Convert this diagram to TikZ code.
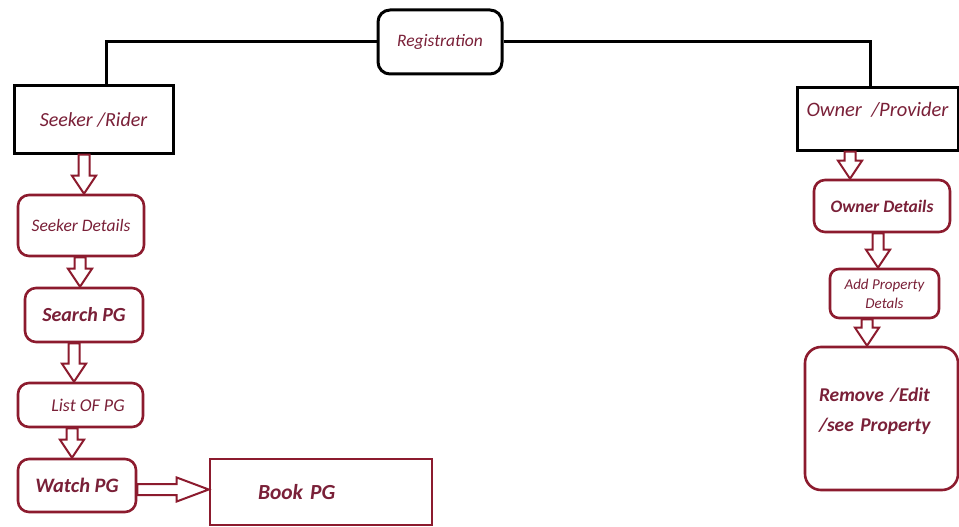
\documentclass[tikz,border=0pt]{standalone}
\usepackage{fontspec}
\setmainfont{Carlito}
\usetikzlibrary{calc}
\definecolor{dred}{HTML}{8C1B2E}
\definecolor{tred}{HTML}{7A2038}
\tikzset{
  blackbox/.style={draw=black,line width=3pt,text=tred,font=\itshape,inner sep=0pt},
  redbox/.style={draw=dred,line width=2.6pt,rounded corners=11pt,text=tred,font=\itshape,inner sep=0pt,fill=white},
  arrowline/.style={draw=dred,line width=2pt,fill=white,line join=miter},
  conn/.style={draw=black,line width=3pt}
}
\newcommand\blockarr[3][18pt]{%
  \path #2 coordinate (bas);
  \path #3 coordinate (bat);
  \path ($(bat)!#1!(bas)$) coordinate (baq);
  \draw[arrowline] ($(bas)!5.5pt!90:(bat)$) -- ($(baq)!5.5pt!-90:(bas)$) -- ($(baq)!12pt!-90:(bas)$) -- (bat) -- ($(baq)!12pt!90:(bas)$) -- ($(baq)!5.5pt!90:(bas)$) -- ($(bas)!5.5pt!-90:(bat)$) -- cycle;}
\begin{document}
\begin{tikzpicture}[x=1pt,y=-1pt]
\useasboundingbox[fill=white] (0,0) rectangle (959,527);
% nodes
\node[blackbox,rounded corners=12pt,minimum width=124pt,minimum height=64pt,font=\itshape\fontsize{17.5}{20}\selectfont] (reg) at (440,42) {Registration};
\node[blackbox,minimum width=159pt,minimum height=67pt,font=\itshape\fontsize{20}{22}\selectfont] (ssr) at (93.5,119.5) {Seeker /Rider};
\node[blackbox,minimum width=161pt,minimum height=62pt,text depth=20pt,font=\itshape\fontsize{20.5}{22}\selectfont] (own) at (877.5,119) {Owner \ /Provider};
\node[redbox,minimum width=126pt,minimum height=61pt,font=\itshape\fontsize{17.5}{20}\selectfont] (sd) at (81,225.5) {Seeker Details};
\node[redbox,minimum width=118pt,minimum height=54pt,font=\bfseries\itshape\fontsize{20}{22}\selectfont] (search) at (84,315) {Search PG};
\node[redbox,minimum width=125pt,minimum height=44pt,font=\itshape\fontsize{18}{20}\selectfont] (list) at (80.5,405) {\hspace*{15pt}List OF PG};
\node[redbox,minimum width=118pt,minimum height=53pt,font=\bfseries\itshape\fontsize{20.5}{22}\selectfont] (watch) at (77,485.5) {Watch PG};
\node[redbox,rounded corners=0pt,minimum height=66pt,inner xsep=48pt,text width=126pt,align=left,font=\bfseries\itshape\fontsize{21.5}{24}\selectfont] (book) at (321,492) {Book PG};
\node[redbox,minimum width=136pt,minimum height=52pt,font=\bfseries\itshape\fontsize{17.5}{20}\selectfont] (od) at (882,206) {Owner Details};
\node[redbox,rounded corners=9pt,minimum width=109pt,minimum height=49pt,align=center,font=\itshape\fontsize{15}{19}\selectfont] (apd) at (884.5,293.5) {Add Property\\Detals};
\node[redbox,rounded corners=16pt,minimum height=143pt,inner xsep=14pt,text width=125pt,align=left,text depth=48pt,font=\bfseries\itshape\fontsize{19.5}{30}\selectfont] (rem) at (881.5,418.5) {Remove /Edit\\/see Property};
% connectors
\draw[conn] (reg.west) -| ([xshift=12.5pt]ssr.north);
\draw[conn] (reg.east) -| ([xshift=-7.5pt]own.north);
% hollow arrows
\blockarr{([xshift=-9.5pt]ssr.south)}{([xshift=3pt]sd.north)}
\blockarr{([xshift=-1pt]sd.south)}{([xshift=-4pt]search.north)}
\blockarr{([xshift=-10pt]search.south)}{([xshift=-6.5pt]list.north)}
\blockarr{([xshift=-8.5pt]list.south)}{([xshift=-5pt]watch.north)}
\blockarr[32pt]{([yshift=-4pt]watch.east)}{([yshift=2.5pt]book.west)}
\blockarr{([xshift=-27.5pt]own.south)}{([xshift=-32pt]od.north)}
\blockarr{([xshift=-4pt]od.south)}{([xshift=-6.5pt]apd.north)}
\blockarr{([xshift=-17.5pt]apd.south)}{([xshift=-14.5pt]rem.north)}
\end{tikzpicture}
\end{document}
